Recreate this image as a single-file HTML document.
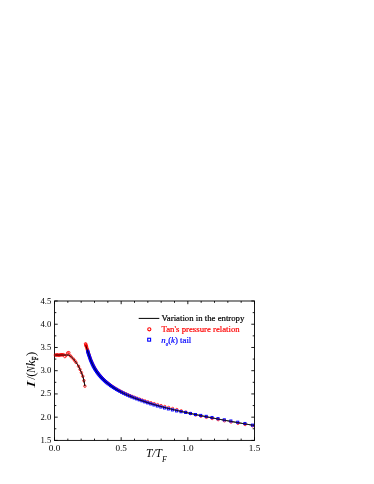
<!DOCTYPE html>
<html><head><meta charset="utf-8"><style>
html,body{margin:0;padding:0;background:#fff;}
body{width:374px;height:484px;position:relative;overflow:hidden;font-family:"Liberation Serif",serif;color:#000;}
.t{position:absolute;white-space:nowrap;line-height:1;}
.xt{font-size:9.2px;top:443.7px;transform:translateX(-50%);}
.yt{font-size:8.7px;right:322.7px;transform:translateY(-50%);margin-top:-0.5px;}
.lg{font-size:8.75px;margin-top:-0.3px;-webkit-text-stroke:0.2px;left:161.5px;transform:translateY(-50%);}
sub{font-size:58%;vertical-align:baseline;position:relative;top:0.75em;line-height:0;}
</style></head><body><div id="wrap" style="position:absolute;left:0;top:0;width:374px;height:484px;will-change:transform;">
<svg width="374" height="484" viewBox="0 0 374 484" style="position:absolute;left:0;top:0">
<rect x="54.5" y="301.0" width="200.0" height="139.39999999999998" fill="none" stroke="#000" stroke-width="0.9"/>
<path d="M54.50,440.4 v-3.2 M54.50,301.0 v3.2 M67.83,440.4 v-1.8 M67.83,301.0 v1.8 M81.17,440.4 v-1.8 M81.17,301.0 v1.8 M94.50,440.4 v-1.8 M94.50,301.0 v1.8 M107.83,440.4 v-1.8 M107.83,301.0 v1.8 M121.17,440.4 v-3.2 M121.17,301.0 v3.2 M134.50,440.4 v-1.8 M134.50,301.0 v1.8 M147.83,440.4 v-1.8 M147.83,301.0 v1.8 M161.17,440.4 v-1.8 M161.17,301.0 v1.8 M174.50,440.4 v-1.8 M174.50,301.0 v1.8 M187.83,440.4 v-3.2 M187.83,301.0 v3.2 M201.17,440.4 v-1.8 M201.17,301.0 v1.8 M214.50,440.4 v-1.8 M214.50,301.0 v1.8 M227.83,440.4 v-1.8 M227.83,301.0 v1.8 M241.17,440.4 v-1.8 M241.17,301.0 v1.8 M254.50,440.4 v-3.2 M254.50,301.0 v3.2 M54.5,440.40 h3.2 M254.5,440.40 h-3.2 M54.5,428.78 h1.8 M254.5,428.78 h-1.8 M54.5,417.17 h3.2 M254.5,417.17 h-3.2 M54.5,405.55 h1.8 M254.5,405.55 h-1.8 M54.5,393.93 h3.2 M254.5,393.93 h-3.2 M54.5,382.32 h1.8 M254.5,382.32 h-1.8 M54.5,370.70 h3.2 M254.5,370.70 h-3.2 M54.5,359.08 h1.8 M254.5,359.08 h-1.8 M54.5,347.47 h3.2 M254.5,347.47 h-3.2 M54.5,335.85 h1.8 M254.5,335.85 h-1.8 M54.5,324.23 h3.2 M254.5,324.23 h-3.2 M54.5,312.62 h1.8 M254.5,312.62 h-1.8 M54.5,301.00 h3.2 M254.5,301.00 h-3.2" stroke="#000" stroke-width="0.9" fill="none"/>
<path d="M54.50,355.00 L54.65,355.00 L54.81,355.00 L54.96,355.00 L55.11,355.00 L55.26,355.00 L55.42,355.00 L55.57,355.00 L55.72,355.00 L55.87,355.00 L56.03,355.00 L56.18,355.00 L56.33,355.00 L56.49,355.00 L56.64,355.00 L56.79,355.00 L56.94,355.00 L57.10,355.00 L57.25,355.00 L57.40,355.00 L57.56,355.00 L57.71,355.00 L57.86,355.00 L58.01,355.00 L58.17,355.00 L58.32,355.00 L58.47,355.00 L58.62,355.00 L58.78,355.00 L58.93,355.00 L59.08,355.00 L59.24,355.00 L59.39,355.00 L59.54,355.00 L59.69,355.00 L59.85,355.00 L60.00,355.00 L60.15,355.00 L60.31,355.00 L60.46,355.00 L60.61,355.00 L60.76,355.00 L60.92,355.00 L61.07,355.00 L61.22,355.00 L61.37,355.00 L61.53,355.00 L61.68,355.00 L61.83,355.00 L61.99,355.00 L62.14,355.00 L62.29,355.00 L62.44,355.00 L62.60,355.00 L62.75,355.00 L62.90,355.01 L63.05,355.01 L63.21,355.01 L63.36,355.01 L63.51,355.02 L63.67,355.02 L63.82,355.02 L63.97,355.02 L64.12,355.03 L64.28,355.03 L64.43,355.03 L64.58,355.04 L64.74,355.04 L64.89,355.04 L65.04,355.04 L65.19,355.04 L65.35,355.05 L65.50,355.05 L65.65,355.05 L65.80,355.05 L65.96,355.05 L66.11,355.05 L66.26,355.05 L66.42,355.04 L66.57,355.04 L66.72,355.04 L66.87,355.03 L67.03,355.02 L67.18,355.02 L67.33,355.01 L67.48,355.01 L67.64,355.00 L67.79,355.00 L67.94,355.00 L68.10,355.00 L68.25,355.02 L68.40,355.04 L68.55,355.07 L68.71,355.12 L68.86,355.17 L69.01,355.22 L69.17,355.29 L69.32,355.36 L69.47,355.43 L69.62,355.50 L69.78,355.58 L69.93,355.66 L70.08,355.75 L70.23,355.85 L70.39,355.98 L70.54,356.12 L70.69,356.27 L70.85,356.43 L71.00,356.59 L71.15,356.75 L71.30,356.90 L71.46,357.05 L71.61,357.20 L71.76,357.34 L71.92,357.49 L72.07,357.63 L72.22,357.78 L72.37,357.93 L72.53,358.08 L72.68,358.24 L72.83,358.40 L72.98,358.56 L73.14,358.72 L73.29,358.89 L73.44,359.06 L73.60,359.24 L73.75,359.42 L73.90,359.60 L74.05,359.79 L74.21,359.98 L74.36,360.17 L74.51,360.37 L74.66,360.56 L74.82,360.77 L74.97,360.97 L75.12,361.17 L75.28,361.38 L75.43,361.59 L75.58,361.80 L75.73,362.01 L75.89,362.22 L76.04,362.43 L76.19,362.64 L76.35,362.86 L76.50,363.07 L76.65,363.29 L76.80,363.51 L76.96,363.73 L77.11,363.95 L77.26,364.18 L77.41,364.41 L77.57,364.64 L77.72,364.88 L77.87,365.13 L78.03,365.38 L78.18,365.64 L78.33,365.90 L78.48,366.17 L78.64,366.45 L78.79,366.75 L78.94,367.06 L79.09,367.39 L79.25,367.72 L79.40,368.06 L79.55,368.40 L79.71,368.74 L79.86,369.09 L80.01,369.43 L80.16,369.76 L80.32,370.10 L80.47,370.44 L80.62,370.79 L80.78,371.13 L80.93,371.49 L81.08,371.84 L81.23,372.20 L81.39,372.57 L81.54,372.93 L81.69,373.29 L81.84,373.66 L82.00,374.02 L82.15,374.40 L82.30,374.78 L82.46,375.19 L82.61,375.62 L82.76,376.08 L82.91,376.57 L83.07,377.11 L83.22,377.68 L83.37,378.28 L83.53,378.92 L83.68,379.59 L83.83,380.28 L83.98,381.00 L84.14,381.76 L84.29,382.57 L84.44,383.43 L84.59,384.32 L84.75,385.24 L84.90,386.20" stroke="#000" stroke-width="1" fill="none"/>
<path d="M85.80,345.38 L86.22,346.63 L86.65,347.94 L87.07,349.30 L87.49,350.67 L87.91,352.03 L88.34,353.38 L88.76,354.69 L89.18,355.98 L89.61,357.22 L90.03,358.42 L90.45,359.57 L90.87,360.67 L91.30,361.72 L91.72,362.72 L92.14,363.68 L92.56,364.59 L92.99,365.45 L93.41,366.29 L93.83,367.08 L94.26,367.85 L94.68,368.59 L95.10,369.30 L95.52,369.98 L95.95,370.65 L96.37,371.29 L96.79,371.91 L97.22,372.51 L97.64,373.09 L98.06,373.66 L98.48,374.21 L98.91,374.74 L99.33,375.26 L99.75,375.77 L100.18,376.26 L100.60,376.75 L101.02,377.22 L101.44,377.67 L101.87,378.12 L102.29,378.56 L102.71,378.99 L103.14,379.41 L103.56,379.82 L103.98,380.22 L104.40,380.62 L104.83,381.00 L105.25,381.38 L105.67,381.75 L106.09,382.12 L106.52,382.48 L106.94,382.83 L107.36,383.17 L107.79,383.51 L108.21,383.85 L108.63,384.17 L109.05,384.50 L109.48,384.81 L109.90,385.13 L110.32,385.43 L110.75,385.74 L111.17,386.04 L111.59,386.33 L112.01,386.62 L112.44,386.91 L112.86,387.19 L113.28,387.47 L113.71,387.74 L114.13,388.01 L114.55,388.28 L114.97,388.54 L115.40,388.80 L115.82,389.05 L116.24,389.31 L116.66,389.56 L117.09,389.81 L117.51,390.05 L117.93,390.29 L118.36,390.53 L118.78,390.76 L119.20,391.00 L119.62,391.23 L120.05,391.45 L120.47,391.68 L120.89,391.90 L121.32,392.12 L121.74,392.34 L122.16,392.56 L122.58,392.77 L123.01,392.98 L123.43,393.19 L123.85,393.40 L124.28,393.60 L124.70,393.80 L125.12,394.00 L125.54,394.20 L125.97,394.40 L126.39,394.60 L126.81,394.79 L127.24,394.98 L127.66,395.17 L128.08,395.36 L128.50,395.55 L128.93,395.73 L129.35,395.91 L129.77,396.09 L130.19,396.27 L130.62,396.45 L131.04,396.63 L131.46,396.81 L131.89,396.98 L132.31,397.15 L132.73,397.32 L133.15,397.49 L133.58,397.66 L134.00,397.83 L134.42,398.00 L134.85,398.16 L135.27,398.32 L135.69,398.49 L136.11,398.65 L136.54,398.81 L136.96,398.97 L137.38,399.12 L137.81,399.28 L138.23,399.43 L138.65,399.59 L139.07,399.74 L139.50,399.89 L139.92,400.04 L140.34,400.19 L140.76,400.34 L141.19,400.49 L141.61,400.64 L142.03,400.78 L142.46,400.93 L142.88,401.07 L143.30,401.21 L143.72,401.36 L144.15,401.50 L144.57,401.64 L144.99,401.78 L145.42,401.91 L145.84,402.05 L146.26,402.19 L146.68,402.32 L147.11,402.46 L147.53,402.59 L147.95,402.73 L148.38,402.86 L148.80,402.99 L149.22,403.12 L149.64,403.25 L150.07,403.38 L150.49,403.51 L150.91,403.64 L151.34,403.76 L151.76,403.89 L152.18,404.02 L152.60,404.14 L153.03,404.27 L153.45,404.39 L153.87,404.51 L154.29,404.64 L154.72,404.76 L155.14,404.88 L155.56,405.00 L155.99,405.12 L156.41,405.24 L156.83,405.36 L157.25,405.47 L157.68,405.59 L158.10,405.71 L158.52,405.83 L158.95,405.94 L159.37,406.06 L159.79,406.17 L160.21,406.29 L160.64,406.40 L161.06,406.51 L161.48,406.63 L161.91,406.74 L162.33,406.85 L162.75,406.96 L163.17,407.07 L163.60,407.18 L164.02,407.29 L164.44,407.40 L164.86,407.51 L165.29,407.62 L165.71,407.73 L166.13,407.84 L166.56,407.94 L166.98,408.05 L167.40,408.16 L167.82,408.26 L168.25,408.37 L168.67,408.48 L169.09,408.58 L169.52,408.69 L169.94,408.79 L170.36,408.89 L170.78,409.00 L171.21,409.10 L171.63,409.20 L172.05,409.31 L172.48,409.41 L172.90,409.51 L173.32,409.61 L173.74,409.71 L174.17,409.81 L174.59,409.91 L175.01,410.01 L175.44,410.11 L175.86,410.21 L176.28,410.31 L176.70,410.41 L177.13,410.51 L177.55,410.61 L177.97,410.71 L178.39,410.80 L178.82,410.90 L179.24,411.00 L179.66,411.10 L180.09,411.19 L180.51,411.29 L180.93,411.38 L181.35,411.48 L181.78,411.58 L182.20,411.67 L182.62,411.77 L183.05,411.86 L183.47,411.95 L183.89,412.05 L184.31,412.14 L184.74,412.24 L185.16,412.33 L185.58,412.42 L186.01,412.52 L186.43,412.61 L186.85,412.70 L187.27,412.79 L187.70,412.89 L188.12,412.98 L188.54,413.07 L188.96,413.16 L189.39,413.25 L189.81,413.34 L190.23,413.43 L190.66,413.52 L191.08,413.61 L191.50,413.70 L191.92,413.79 L192.35,413.88 L192.77,413.97 L193.19,414.06 L193.62,414.15 L194.04,414.24 L194.46,414.33 L194.88,414.42 L195.31,414.51 L195.73,414.59 L196.15,414.68 L196.58,414.77 L197.00,414.86 L197.42,414.94 L197.84,415.03 L198.27,415.12 L198.69,415.20 L199.11,415.29 L199.54,415.38 L199.96,415.46 L200.38,415.55 L200.80,415.64 L201.23,415.72 L201.65,415.81 L202.07,415.89 L202.49,415.98 L202.92,416.06 L203.34,416.15 L203.76,416.23 L204.19,416.32 L204.61,416.40 L205.03,416.49 L205.45,416.57 L205.88,416.66 L206.30,416.74 L206.72,416.82 L207.15,416.91 L207.57,416.99 L207.99,417.07 L208.41,417.16 L208.84,417.24 L209.26,417.32 L209.68,417.40 L210.11,417.49 L210.53,417.57 L210.95,417.65 L211.37,417.73 L211.80,417.82 L212.22,417.90 L212.64,417.98 L213.06,418.06 L213.49,418.14 L213.91,418.22 L214.33,418.31 L214.76,418.39 L215.18,418.47 L215.60,418.55 L216.02,418.63 L216.45,418.71 L216.87,418.79 L217.29,418.87 L217.72,418.95 L218.14,419.03 L218.56,419.11 L218.98,419.19 L219.41,419.27 L219.83,419.35 L220.25,419.43 L220.68,419.51 L221.10,419.59 L221.52,419.67 L221.94,419.75 L222.37,419.82 L222.79,419.90 L223.21,419.98 L223.64,420.06 L224.06,420.14 L224.48,420.22 L224.90,420.30 L225.33,420.37 L225.75,420.45 L226.17,420.53 L226.59,420.61 L227.02,420.68 L227.44,420.76 L227.86,420.84 L228.29,420.92 L228.71,420.99 L229.13,421.07 L229.55,421.15 L229.98,421.23 L230.40,421.30 L230.82,421.38 L231.25,421.46 L231.67,421.53 L232.09,421.61 L232.51,421.69 L232.94,421.76 L233.36,421.84 L233.78,421.91 L234.21,421.99 L234.63,422.07 L235.05,422.14 L235.47,422.22 L235.90,422.29 L236.32,422.37 L236.74,422.44 L237.16,422.52 L237.59,422.59 L238.01,422.67 L238.43,422.74 L238.86,422.82 L239.28,422.89 L239.70,422.97 L240.12,423.04 L240.55,423.12 L240.97,423.19 L241.39,423.27 L241.82,423.34 L242.24,423.42 L242.66,423.49 L243.08,423.56 L243.51,423.64 L243.93,423.71 L244.35,423.79 L244.78,423.86 L245.20,423.93 L245.62,424.01 L246.04,424.08 L246.47,424.15 L246.89,424.23 L247.31,424.30 L247.74,424.37 L248.16,424.45 L248.58,424.52 L249.00,424.59 L249.43,424.67 L249.85,424.74 L250.27,424.81 L250.69,424.88 L251.12,424.96 L251.54,425.03 L251.96,425.10 L252.39,425.17 L252.81,425.25 L253.23,425.32 L253.65,425.39 L254.08,425.46 L254.50,425.54" stroke="#000" stroke-width="1" fill="none"/>
<circle cx="55.40" cy="355.04" r="1.25" fill="none" stroke="#f00" stroke-width="0.8"/>
<circle cx="56.22" cy="355.15" r="1.25" fill="none" stroke="#f00" stroke-width="0.8"/>
<circle cx="57.04" cy="354.85" r="1.25" fill="none" stroke="#f00" stroke-width="0.8"/>
<circle cx="57.86" cy="355.01" r="1.25" fill="none" stroke="#f00" stroke-width="0.8"/>
<circle cx="58.68" cy="355.28" r="1.25" fill="none" stroke="#f00" stroke-width="0.8"/>
<circle cx="59.50" cy="355.28" r="1.25" fill="none" stroke="#f00" stroke-width="0.8"/>
<circle cx="60.32" cy="354.74" r="1.25" fill="none" stroke="#f00" stroke-width="0.8"/>
<circle cx="61.14" cy="354.80" r="1.25" fill="none" stroke="#f00" stroke-width="0.8"/>
<circle cx="61.96" cy="354.69" r="1.25" fill="none" stroke="#f00" stroke-width="0.8"/>
<circle cx="62.78" cy="354.96" r="1.25" fill="none" stroke="#f00" stroke-width="0.8"/>
<circle cx="63.60" cy="354.67" r="1.25" fill="none" stroke="#f00" stroke-width="0.8"/>
<circle cx="64.90" cy="356.60" r="1.25" fill="none" stroke="#f00" stroke-width="0.8"/>
<circle cx="66.20" cy="355.20" r="1.25" fill="none" stroke="#f00" stroke-width="0.8"/>
<circle cx="67.70" cy="352.90" r="1.25" fill="none" stroke="#f00" stroke-width="0.8"/>
<circle cx="68.80" cy="352.60" r="1.25" fill="none" stroke="#f00" stroke-width="0.8"/>
<circle cx="70.00" cy="355.40" r="1.25" fill="none" stroke="#f00" stroke-width="0.8"/>
<circle cx="71.30" cy="356.90" r="1.25" fill="none" stroke="#f00" stroke-width="0.8"/>
<circle cx="73.30" cy="358.90" r="1.25" fill="none" stroke="#f00" stroke-width="0.8"/>
<circle cx="74.80" cy="360.74" r="1.25" fill="none" stroke="#f00" stroke-width="0.8"/>
<circle cx="76.10" cy="362.52" r="1.25" fill="none" stroke="#f00" stroke-width="0.8"/>
<circle cx="78.50" cy="366.20" r="1.25" fill="none" stroke="#f00" stroke-width="0.8"/>
<circle cx="80.00" cy="369.40" r="1.25" fill="none" stroke="#f00" stroke-width="0.8"/>
<circle cx="81.40" cy="372.60" r="1.25" fill="none" stroke="#f00" stroke-width="0.8"/>
<circle cx="82.80" cy="376.20" r="1.25" fill="none" stroke="#f00" stroke-width="0.8"/>
<circle cx="83.90" cy="380.60" r="1.25" fill="none" stroke="#f00" stroke-width="0.8"/>
<circle cx="84.90" cy="386.20" r="1.25" fill="none" stroke="#f00" stroke-width="0.8"/>
<path d="M54.50,355.00 L54.65,355.00 L54.81,355.00 L54.96,355.00 L55.11,355.00 L55.26,355.00 L55.42,355.00 L55.57,355.00 L55.72,355.00 L55.87,355.00 L56.03,355.00 L56.18,355.00 L56.33,355.00 L56.49,355.00 L56.64,355.00 L56.79,355.00 L56.94,355.00 L57.10,355.00 L57.25,355.00 L57.40,355.00 L57.56,355.00 L57.71,355.00 L57.86,355.00 L58.01,355.00 L58.17,355.00 L58.32,355.00 L58.47,355.00 L58.62,355.00 L58.78,355.00 L58.93,355.00 L59.08,355.00 L59.24,355.00 L59.39,355.00 L59.54,355.00 L59.69,355.00 L59.85,355.00 L60.00,355.00 L60.15,355.00 L60.31,355.00 L60.46,355.00 L60.61,355.00 L60.76,355.00 L60.92,355.00 L61.07,355.00 L61.22,355.00 L61.37,355.00 L61.53,355.00 L61.68,355.00 L61.83,355.00 L61.99,355.00 L62.14,355.00 L62.29,355.00 L62.44,355.00 L62.60,355.00 L62.75,355.00 L62.90,355.01 L63.05,355.01 L63.21,355.01 L63.36,355.01 L63.51,355.02 L63.67,355.02 L63.82,355.02 L63.97,355.02 L64.12,355.03 L64.28,355.03 L64.43,355.03 L64.58,355.04 L64.74,355.04 L64.89,355.04 L65.04,355.04 L65.19,355.04 L65.35,355.05 L65.50,355.05 L65.65,355.05 L65.80,355.05 L65.96,355.05 L66.11,355.05 L66.26,355.05 L66.42,355.04 L66.57,355.04 L66.72,355.04 L66.87,355.03 L67.03,355.02 L67.18,355.02 L67.33,355.01 L67.48,355.01 L67.64,355.00 L67.79,355.00 L67.94,355.00 L68.10,355.00 L68.25,355.02 L68.40,355.04 L68.55,355.07 L68.71,355.12 L68.86,355.17 L69.01,355.22 L69.17,355.29 L69.32,355.36 L69.47,355.43 L69.62,355.50 L69.78,355.58 L69.93,355.66 L70.08,355.75 L70.23,355.85 L70.39,355.98 L70.54,356.12 L70.69,356.27 L70.85,356.43 L71.00,356.59 L71.15,356.75 L71.30,356.90 L71.46,357.05 L71.61,357.20 L71.76,357.34 L71.92,357.49 L72.07,357.63 L72.22,357.78 L72.37,357.93 L72.53,358.08 L72.68,358.24 L72.83,358.40 L72.98,358.56 L73.14,358.72 L73.29,358.89 L73.44,359.06 L73.60,359.24 L73.75,359.42 L73.90,359.60 L74.05,359.79 L74.21,359.98 L74.36,360.17 L74.51,360.37 L74.66,360.56 L74.82,360.77 L74.97,360.97 L75.12,361.17 L75.28,361.38 L75.43,361.59 L75.58,361.80 L75.73,362.01 L75.89,362.22 L76.04,362.43 L76.19,362.64 L76.35,362.86 L76.50,363.07 L76.65,363.29 L76.80,363.51 L76.96,363.73 L77.11,363.95 L77.26,364.18 L77.41,364.41 L77.57,364.64 L77.72,364.88 L77.87,365.13 L78.03,365.38 L78.18,365.64 L78.33,365.90 L78.48,366.17 L78.64,366.45 L78.79,366.75 L78.94,367.06 L79.09,367.39 L79.25,367.72 L79.40,368.06 L79.55,368.40 L79.71,368.74 L79.86,369.09 L80.01,369.43 L80.16,369.76 L80.32,370.10 L80.47,370.44 L80.62,370.79 L80.78,371.13 L80.93,371.49 L81.08,371.84 L81.23,372.20 L81.39,372.57 L81.54,372.93 L81.69,373.29 L81.84,373.66 L82.00,374.02 L82.15,374.40 L82.30,374.78 L82.46,375.19 L82.61,375.62 L82.76,376.08 L82.91,376.57 L83.07,377.11 L83.22,377.68 L83.37,378.28 L83.53,378.92 L83.68,379.59 L83.83,380.28 L83.98,381.00 L84.14,381.76 L84.29,382.57 L84.44,383.43 L84.59,384.32 L84.75,385.24 L84.90,386.20" stroke="#000" stroke-width="1" fill="none"/>
<circle cx="85.55" cy="343.76" r="1.25" fill="none" stroke="#f00" stroke-width="0.8"/>
<circle cx="85.75" cy="344.48" r="1.25" fill="none" stroke="#f00" stroke-width="0.8"/>
<circle cx="85.95" cy="345.19" r="1.25" fill="none" stroke="#f00" stroke-width="0.8"/>
<circle cx="86.15" cy="345.83" r="1.25" fill="none" stroke="#f00" stroke-width="0.8"/>
<circle cx="86.35" cy="346.41" r="1.25" fill="none" stroke="#f00" stroke-width="0.8"/>
<circle cx="86.55" cy="347.01" r="1.25" fill="none" stroke="#f00" stroke-width="0.8"/>
<circle cx="86.94" cy="348.24" r="1.25" fill="none" stroke="#f00" stroke-width="0.8"/>
<circle cx="87.23" cy="349.16" r="1.25" fill="none" stroke="#f00" stroke-width="0.8"/>
<circle cx="87.53" cy="350.13" r="1.25" fill="none" stroke="#f00" stroke-width="0.8"/>
<circle cx="87.85" cy="351.15" r="1.25" fill="none" stroke="#f00" stroke-width="0.8"/>
<circle cx="88.17" cy="352.20" r="1.25" fill="none" stroke="#f00" stroke-width="0.8"/>
<circle cx="88.52" cy="353.29" r="1.25" fill="none" stroke="#f00" stroke-width="0.8"/>
<circle cx="88.88" cy="354.41" r="1.25" fill="none" stroke="#f00" stroke-width="0.8"/>
<circle cx="89.25" cy="355.55" r="1.25" fill="none" stroke="#f00" stroke-width="0.8"/>
<circle cx="89.65" cy="356.72" r="1.25" fill="none" stroke="#f00" stroke-width="0.8"/>
<circle cx="90.06" cy="357.90" r="1.25" fill="none" stroke="#f00" stroke-width="0.8"/>
<circle cx="90.49" cy="359.08" r="1.25" fill="none" stroke="#f00" stroke-width="0.8"/>
<circle cx="90.94" cy="360.27" r="1.25" fill="none" stroke="#f00" stroke-width="0.8"/>
<circle cx="91.41" cy="361.45" r="1.25" fill="none" stroke="#f00" stroke-width="0.8"/>
<circle cx="91.90" cy="362.62" r="1.25" fill="none" stroke="#f00" stroke-width="0.8"/>
<circle cx="92.41" cy="363.77" r="1.25" fill="none" stroke="#f00" stroke-width="0.8"/>
<circle cx="92.95" cy="364.90" r="1.25" fill="none" stroke="#f00" stroke-width="0.8"/>
<circle cx="93.51" cy="366.02" r="1.25" fill="none" stroke="#f00" stroke-width="0.8"/>
<circle cx="94.10" cy="367.13" r="1.25" fill="none" stroke="#f00" stroke-width="0.8"/>
<circle cx="94.71" cy="368.22" r="1.25" fill="none" stroke="#f00" stroke-width="0.8"/>
<circle cx="95.36" cy="369.30" r="1.25" fill="none" stroke="#f00" stroke-width="0.8"/>
<circle cx="96.03" cy="370.37" r="1.25" fill="none" stroke="#f00" stroke-width="0.8"/>
<circle cx="96.73" cy="371.43" r="1.25" fill="none" stroke="#f00" stroke-width="0.8"/>
<circle cx="97.47" cy="372.48" r="1.25" fill="none" stroke="#f00" stroke-width="0.8"/>
<circle cx="98.24" cy="373.51" r="1.25" fill="none" stroke="#f00" stroke-width="0.8"/>
<circle cx="99.04" cy="374.54" r="1.25" fill="none" stroke="#f00" stroke-width="0.8"/>
<circle cx="99.88" cy="375.56" r="1.25" fill="none" stroke="#f00" stroke-width="0.8"/>
<circle cx="100.76" cy="376.57" r="1.25" fill="none" stroke="#f00" stroke-width="0.8"/>
<circle cx="101.68" cy="377.57" r="1.25" fill="none" stroke="#f00" stroke-width="0.8"/>
<circle cx="102.64" cy="378.57" r="1.25" fill="none" stroke="#f00" stroke-width="0.8"/>
<circle cx="103.65" cy="379.55" r="1.25" fill="none" stroke="#f00" stroke-width="0.8"/>
<circle cx="104.70" cy="380.54" r="1.25" fill="none" stroke="#f00" stroke-width="0.8"/>
<circle cx="105.80" cy="381.51" r="1.25" fill="none" stroke="#f00" stroke-width="0.8"/>
<circle cx="106.95" cy="382.48" r="1.25" fill="none" stroke="#f00" stroke-width="0.8"/>
<circle cx="108.15" cy="383.44" r="1.25" fill="none" stroke="#f00" stroke-width="0.8"/>
<circle cx="109.41" cy="384.40" r="1.25" fill="none" stroke="#f00" stroke-width="0.8"/>
<circle cx="110.72" cy="385.36" r="1.25" fill="none" stroke="#f00" stroke-width="0.8"/>
<circle cx="112.10" cy="386.31" r="1.25" fill="none" stroke="#f00" stroke-width="0.8"/>
<circle cx="113.53" cy="387.26" r="1.25" fill="none" stroke="#f00" stroke-width="0.8"/>
<circle cx="115.04" cy="388.20" r="1.25" fill="none" stroke="#f00" stroke-width="0.8"/>
<circle cx="116.61" cy="389.14" r="1.25" fill="none" stroke="#f00" stroke-width="0.8"/>
<circle cx="118.25" cy="390.07" r="1.25" fill="none" stroke="#f00" stroke-width="0.8"/>
<circle cx="119.97" cy="391.01" r="1.25" fill="none" stroke="#f00" stroke-width="0.8"/>
<circle cx="121.77" cy="391.92" r="1.25" fill="none" stroke="#f00" stroke-width="0.8"/>
<circle cx="123.65" cy="392.83" r="1.25" fill="none" stroke="#f00" stroke-width="0.8"/>
<circle cx="125.62" cy="393.74" r="1.25" fill="none" stroke="#f00" stroke-width="0.8"/>
<circle cx="127.67" cy="394.64" r="1.25" fill="none" stroke="#f00" stroke-width="0.8"/>
<circle cx="129.82" cy="395.54" r="1.25" fill="none" stroke="#f00" stroke-width="0.8"/>
<circle cx="132.07" cy="396.44" r="1.25" fill="none" stroke="#f00" stroke-width="0.8"/>
<circle cx="134.42" cy="397.33" r="1.25" fill="none" stroke="#f00" stroke-width="0.8"/>
<circle cx="136.88" cy="398.23" r="1.25" fill="none" stroke="#f00" stroke-width="0.8"/>
<circle cx="139.45" cy="399.12" r="1.25" fill="none" stroke="#f00" stroke-width="0.8"/>
<circle cx="142.14" cy="400.04" r="1.25" fill="none" stroke="#f00" stroke-width="0.8"/>
<circle cx="144.96" cy="400.96" r="1.25" fill="none" stroke="#f00" stroke-width="0.8"/>
<circle cx="147.90" cy="401.88" r="1.25" fill="none" stroke="#f00" stroke-width="0.8"/>
<circle cx="150.97" cy="402.81" r="1.25" fill="none" stroke="#f00" stroke-width="0.8"/>
<circle cx="154.19" cy="403.73" r="1.25" fill="none" stroke="#f00" stroke-width="0.8"/>
<circle cx="157.55" cy="404.66" r="1.25" fill="none" stroke="#f00" stroke-width="0.8"/>
<circle cx="161.07" cy="405.60" r="1.25" fill="none" stroke="#f00" stroke-width="0.8"/>
<circle cx="164.74" cy="406.53" r="1.25" fill="none" stroke="#f00" stroke-width="0.8"/>
<circle cx="168.59" cy="407.53" r="1.25" fill="none" stroke="#f00" stroke-width="0.8"/>
<circle cx="172.61" cy="408.55" r="1.25" fill="none" stroke="#f00" stroke-width="0.8"/>
<circle cx="176.82" cy="409.58" r="1.25" fill="none" stroke="#f00" stroke-width="0.8"/>
<circle cx="181.22" cy="410.82" r="1.25" fill="none" stroke="#f00" stroke-width="0.8"/>
<circle cx="185.82" cy="412.17" r="1.25" fill="none" stroke="#f00" stroke-width="0.8"/>
<circle cx="190.62" cy="413.55" r="1.25" fill="none" stroke="#f00" stroke-width="0.8"/>
<circle cx="195.65" cy="414.95" r="1.25" fill="none" stroke="#f00" stroke-width="0.8"/>
<circle cx="200.91" cy="416.13" r="1.25" fill="none" stroke="#f00" stroke-width="0.8"/>
<circle cx="206.41" cy="417.32" r="1.25" fill="none" stroke="#f00" stroke-width="0.8"/>
<circle cx="212.17" cy="418.45" r="1.25" fill="none" stroke="#f00" stroke-width="0.8"/>
<circle cx="218.18" cy="419.60" r="1.25" fill="none" stroke="#f00" stroke-width="0.8"/>
<circle cx="224.47" cy="420.78" r="1.25" fill="none" stroke="#f00" stroke-width="0.8"/>
<circle cx="231.05" cy="421.98" r="1.25" fill="none" stroke="#f00" stroke-width="0.8"/>
<circle cx="237.93" cy="423.22" r="1.25" fill="none" stroke="#f00" stroke-width="0.8"/>
<circle cx="245.12" cy="424.49" r="1.25" fill="none" stroke="#f00" stroke-width="0.8"/>
<circle cx="252.64" cy="425.78" r="1.25" fill="none" stroke="#f00" stroke-width="0.8"/>
<rect x="86.60" y="350.12" width="2.1" height="2.1" fill="none" stroke="#00f" stroke-width="0.95"/>
<rect x="86.92" y="351.18" width="2.1" height="2.1" fill="none" stroke="#00f" stroke-width="0.95"/>
<rect x="87.27" y="352.27" width="2.1" height="2.1" fill="none" stroke="#00f" stroke-width="0.95"/>
<rect x="87.63" y="353.39" width="2.1" height="2.1" fill="none" stroke="#00f" stroke-width="0.95"/>
<rect x="88.00" y="354.54" width="2.1" height="2.1" fill="none" stroke="#00f" stroke-width="0.95"/>
<rect x="88.40" y="355.71" width="2.1" height="2.1" fill="none" stroke="#00f" stroke-width="0.95"/>
<rect x="88.81" y="356.89" width="2.1" height="2.1" fill="none" stroke="#00f" stroke-width="0.95"/>
<rect x="89.24" y="358.08" width="2.1" height="2.1" fill="none" stroke="#00f" stroke-width="0.95"/>
<rect x="89.69" y="359.27" width="2.1" height="2.1" fill="none" stroke="#00f" stroke-width="0.95"/>
<rect x="90.16" y="360.45" width="2.1" height="2.1" fill="none" stroke="#00f" stroke-width="0.95"/>
<rect x="90.65" y="361.63" width="2.1" height="2.1" fill="none" stroke="#00f" stroke-width="0.95"/>
<rect x="91.16" y="362.78" width="2.1" height="2.1" fill="none" stroke="#00f" stroke-width="0.95"/>
<rect x="91.70" y="363.92" width="2.1" height="2.1" fill="none" stroke="#00f" stroke-width="0.95"/>
<rect x="92.26" y="365.05" width="2.1" height="2.1" fill="none" stroke="#00f" stroke-width="0.95"/>
<rect x="92.85" y="366.16" width="2.1" height="2.1" fill="none" stroke="#00f" stroke-width="0.95"/>
<rect x="93.46" y="367.25" width="2.1" height="2.1" fill="none" stroke="#00f" stroke-width="0.95"/>
<rect x="94.11" y="368.34" width="2.1" height="2.1" fill="none" stroke="#00f" stroke-width="0.95"/>
<rect x="94.78" y="369.41" width="2.1" height="2.1" fill="none" stroke="#00f" stroke-width="0.95"/>
<rect x="95.48" y="370.48" width="2.1" height="2.1" fill="none" stroke="#00f" stroke-width="0.95"/>
<rect x="96.22" y="371.53" width="2.1" height="2.1" fill="none" stroke="#00f" stroke-width="0.95"/>
<rect x="96.99" y="372.57" width="2.1" height="2.1" fill="none" stroke="#00f" stroke-width="0.95"/>
<rect x="97.79" y="373.61" width="2.1" height="2.1" fill="none" stroke="#00f" stroke-width="0.95"/>
<rect x="98.63" y="374.63" width="2.1" height="2.1" fill="none" stroke="#00f" stroke-width="0.95"/>
<rect x="99.51" y="375.65" width="2.1" height="2.1" fill="none" stroke="#00f" stroke-width="0.95"/>
<rect x="100.43" y="376.66" width="2.1" height="2.1" fill="none" stroke="#00f" stroke-width="0.95"/>
<rect x="101.39" y="377.67" width="2.1" height="2.1" fill="none" stroke="#00f" stroke-width="0.95"/>
<rect x="102.40" y="378.66" width="2.1" height="2.1" fill="none" stroke="#00f" stroke-width="0.95"/>
<rect x="103.45" y="379.65" width="2.1" height="2.1" fill="none" stroke="#00f" stroke-width="0.95"/>
<rect x="104.55" y="380.64" width="2.1" height="2.1" fill="none" stroke="#00f" stroke-width="0.95"/>
<rect x="105.70" y="381.62" width="2.1" height="2.1" fill="none" stroke="#00f" stroke-width="0.95"/>
<rect x="106.90" y="382.59" width="2.1" height="2.1" fill="none" stroke="#00f" stroke-width="0.95"/>
<rect x="108.16" y="383.56" width="2.1" height="2.1" fill="none" stroke="#00f" stroke-width="0.95"/>
<rect x="109.47" y="384.53" width="2.1" height="2.1" fill="none" stroke="#00f" stroke-width="0.95"/>
<rect x="110.85" y="385.49" width="2.1" height="2.1" fill="none" stroke="#00f" stroke-width="0.95"/>
<rect x="112.28" y="386.45" width="2.1" height="2.1" fill="none" stroke="#00f" stroke-width="0.95"/>
<rect x="113.79" y="387.40" width="2.1" height="2.1" fill="none" stroke="#00f" stroke-width="0.95"/>
<rect x="115.36" y="388.36" width="2.1" height="2.1" fill="none" stroke="#00f" stroke-width="0.95"/>
<rect x="117.00" y="389.31" width="2.1" height="2.1" fill="none" stroke="#00f" stroke-width="0.95"/>
<rect x="118.72" y="390.26" width="2.1" height="2.1" fill="none" stroke="#00f" stroke-width="0.95"/>
<rect x="120.52" y="391.20" width="2.1" height="2.1" fill="none" stroke="#00f" stroke-width="0.95"/>
<rect x="122.40" y="392.15" width="2.1" height="2.1" fill="none" stroke="#00f" stroke-width="0.95"/>
<rect x="124.37" y="393.09" width="2.1" height="2.1" fill="none" stroke="#00f" stroke-width="0.95"/>
<rect x="126.42" y="394.04" width="2.1" height="2.1" fill="none" stroke="#00f" stroke-width="0.95"/>
<rect x="128.57" y="394.98" width="2.1" height="2.1" fill="none" stroke="#00f" stroke-width="0.95"/>
<rect x="130.82" y="395.92" width="2.1" height="2.1" fill="none" stroke="#00f" stroke-width="0.95"/>
<rect x="133.17" y="396.87" width="2.1" height="2.1" fill="none" stroke="#00f" stroke-width="0.95"/>
<rect x="135.63" y="397.81" width="2.1" height="2.1" fill="none" stroke="#00f" stroke-width="0.95"/>
<rect x="138.20" y="398.76" width="2.1" height="2.1" fill="none" stroke="#00f" stroke-width="0.95"/>
<rect x="140.89" y="399.75" width="2.1" height="2.1" fill="none" stroke="#00f" stroke-width="0.95"/>
<rect x="143.71" y="400.77" width="2.1" height="2.1" fill="none" stroke="#00f" stroke-width="0.95"/>
<rect x="146.65" y="401.79" width="2.1" height="2.1" fill="none" stroke="#00f" stroke-width="0.95"/>
<rect x="149.72" y="402.81" width="2.1" height="2.1" fill="none" stroke="#00f" stroke-width="0.95"/>
<rect x="152.94" y="403.85" width="2.1" height="2.1" fill="none" stroke="#00f" stroke-width="0.95"/>
<rect x="156.30" y="404.89" width="2.1" height="2.1" fill="none" stroke="#00f" stroke-width="0.95"/>
<rect x="159.82" y="405.91" width="2.1" height="2.1" fill="none" stroke="#00f" stroke-width="0.95"/>
<rect x="163.49" y="406.88" width="2.1" height="2.1" fill="none" stroke="#00f" stroke-width="0.95"/>
<rect x="167.34" y="407.86" width="2.1" height="2.1" fill="none" stroke="#00f" stroke-width="0.95"/>
<rect x="171.36" y="408.84" width="2.1" height="2.1" fill="none" stroke="#00f" stroke-width="0.95"/>
<rect x="175.57" y="409.84" width="2.1" height="2.1" fill="none" stroke="#00f" stroke-width="0.95"/>
<rect x="179.97" y="410.64" width="2.1" height="2.1" fill="none" stroke="#00f" stroke-width="0.95"/>
<rect x="184.57" y="411.38" width="2.1" height="2.1" fill="none" stroke="#00f" stroke-width="0.95"/>
<rect x="189.37" y="412.42" width="2.1" height="2.1" fill="none" stroke="#00f" stroke-width="0.95"/>
<rect x="194.40" y="413.47" width="2.1" height="2.1" fill="none" stroke="#00f" stroke-width="0.95"/>
<rect x="199.66" y="414.37" width="2.1" height="2.1" fill="none" stroke="#00f" stroke-width="0.95"/>
<rect x="205.16" y="415.32" width="2.1" height="2.1" fill="none" stroke="#00f" stroke-width="0.95"/>
<rect x="210.92" y="416.44" width="2.1" height="2.1" fill="none" stroke="#00f" stroke-width="0.95"/>
<rect x="216.93" y="417.59" width="2.1" height="2.1" fill="none" stroke="#00f" stroke-width="0.95"/>
<rect x="223.22" y="418.76" width="2.1" height="2.1" fill="none" stroke="#00f" stroke-width="0.95"/>
<rect x="229.80" y="419.95" width="2.1" height="2.1" fill="none" stroke="#00f" stroke-width="0.95"/>
<rect x="236.68" y="421.18" width="2.1" height="2.1" fill="none" stroke="#00f" stroke-width="0.95"/>
<rect x="243.87" y="422.44" width="2.1" height="2.1" fill="none" stroke="#00f" stroke-width="0.95"/>
<rect x="251.39" y="424.09" width="2.1" height="2.1" fill="none" stroke="#00f" stroke-width="0.95"/>
<path d="M85.80,345.38 L86.22,346.63 L86.65,347.94 L87.07,349.30 L87.49,350.67 L87.91,352.03 L88.34,353.38 L88.76,354.69 L89.18,355.98 L89.61,357.22 L90.03,358.42 L90.45,359.57 L90.87,360.67 L91.30,361.72 L91.72,362.72 L92.14,363.68 L92.56,364.59 L92.99,365.45 L93.41,366.29 L93.83,367.08 L94.26,367.85 L94.68,368.59 L95.10,369.30 L95.52,369.98 L95.95,370.65 L96.37,371.29 L96.79,371.91 L97.22,372.51 L97.64,373.09 L98.06,373.66 L98.48,374.21 L98.91,374.74 L99.33,375.26 L99.75,375.77 L100.18,376.26 L100.60,376.75 L101.02,377.22 L101.44,377.67 L101.87,378.12 L102.29,378.56 L102.71,378.99 L103.14,379.41 L103.56,379.82 L103.98,380.22 L104.40,380.62 L104.83,381.00 L105.25,381.38 L105.67,381.75 L106.09,382.12 L106.52,382.48 L106.94,382.83 L107.36,383.17 L107.79,383.51 L108.21,383.85 L108.63,384.17 L109.05,384.50 L109.48,384.81 L109.90,385.13 L110.32,385.43 L110.75,385.74 L111.17,386.04 L111.59,386.33 L112.01,386.62 L112.44,386.91 L112.86,387.19 L113.28,387.47 L113.71,387.74 L114.13,388.01 L114.55,388.28 L114.97,388.54 L115.40,388.80 L115.82,389.05 L116.24,389.31 L116.66,389.56 L117.09,389.81 L117.51,390.05 L117.93,390.29 L118.36,390.53 L118.78,390.76 L119.20,391.00 L119.62,391.23 L120.05,391.45 L120.47,391.68 L120.89,391.90 L121.32,392.12 L121.74,392.34 L122.16,392.56 L122.58,392.77 L123.01,392.98 L123.43,393.19 L123.85,393.40 L124.28,393.60 L124.70,393.80 L125.12,394.00 L125.54,394.20 L125.97,394.40 L126.39,394.60 L126.81,394.79 L127.24,394.98 L127.66,395.17 L128.08,395.36 L128.50,395.55 L128.93,395.73 L129.35,395.91 L129.77,396.09 L130.19,396.27 L130.62,396.45 L131.04,396.63 L131.46,396.81 L131.89,396.98 L132.31,397.15 L132.73,397.32 L133.15,397.49 L133.58,397.66 L134.00,397.83 L134.42,398.00 L134.85,398.16 L135.27,398.32 L135.69,398.49 L136.11,398.65 L136.54,398.81 L136.96,398.97 L137.38,399.12 L137.81,399.28 L138.23,399.43 L138.65,399.59 L139.07,399.74 L139.50,399.89 L139.92,400.04 L140.34,400.19 L140.76,400.34 L141.19,400.49 L141.61,400.64 L142.03,400.78 L142.46,400.93 L142.88,401.07 L143.30,401.21 L143.72,401.36 L144.15,401.50 L144.57,401.64 L144.99,401.78 L145.42,401.91 L145.84,402.05 L146.26,402.19 L146.68,402.32 L147.11,402.46 L147.53,402.59 L147.95,402.73 L148.38,402.86 L148.80,402.99 L149.22,403.12 L149.64,403.25 L150.07,403.38 L150.49,403.51 L150.91,403.64 L151.34,403.76 L151.76,403.89 L152.18,404.02 L152.60,404.14 L153.03,404.27 L153.45,404.39 L153.87,404.51 L154.29,404.64 L154.72,404.76 L155.14,404.88 L155.56,405.00 L155.99,405.12 L156.41,405.24 L156.83,405.36 L157.25,405.47 L157.68,405.59 L158.10,405.71 L158.52,405.83 L158.95,405.94 L159.37,406.06 L159.79,406.17 L160.21,406.29 L160.64,406.40 L161.06,406.51 L161.48,406.63 L161.91,406.74 L162.33,406.85 L162.75,406.96 L163.17,407.07 L163.60,407.18 L164.02,407.29 L164.44,407.40 L164.86,407.51 L165.29,407.62 L165.71,407.73 L166.13,407.84 L166.56,407.94 L166.98,408.05 L167.40,408.16 L167.82,408.26 L168.25,408.37 L168.67,408.48 L169.09,408.58 L169.52,408.69 L169.94,408.79 L170.36,408.89 L170.78,409.00 L171.21,409.10 L171.63,409.20 L172.05,409.31 L172.48,409.41 L172.90,409.51 L173.32,409.61 L173.74,409.71 L174.17,409.81 L174.59,409.91 L175.01,410.01 L175.44,410.11 L175.86,410.21 L176.28,410.31 L176.70,410.41 L177.13,410.51 L177.55,410.61 L177.97,410.71 L178.39,410.80 L178.82,410.90 L179.24,411.00 L179.66,411.10 L180.09,411.19 L180.51,411.29 L180.93,411.38 L181.35,411.48 L181.78,411.58 L182.20,411.67 L182.62,411.77 L183.05,411.86 L183.47,411.95 L183.89,412.05 L184.31,412.14 L184.74,412.24 L185.16,412.33 L185.58,412.42 L186.01,412.52 L186.43,412.61 L186.85,412.70 L187.27,412.79 L187.70,412.89 L188.12,412.98 L188.54,413.07 L188.96,413.16 L189.39,413.25 L189.81,413.34 L190.23,413.43 L190.66,413.52 L191.08,413.61 L191.50,413.70 L191.92,413.79 L192.35,413.88 L192.77,413.97 L193.19,414.06 L193.62,414.15 L194.04,414.24 L194.46,414.33 L194.88,414.42 L195.31,414.51 L195.73,414.59 L196.15,414.68 L196.58,414.77 L197.00,414.86 L197.42,414.94 L197.84,415.03 L198.27,415.12 L198.69,415.20 L199.11,415.29 L199.54,415.38 L199.96,415.46 L200.38,415.55 L200.80,415.64 L201.23,415.72 L201.65,415.81 L202.07,415.89 L202.49,415.98 L202.92,416.06 L203.34,416.15 L203.76,416.23 L204.19,416.32 L204.61,416.40 L205.03,416.49 L205.45,416.57 L205.88,416.66 L206.30,416.74 L206.72,416.82 L207.15,416.91 L207.57,416.99 L207.99,417.07 L208.41,417.16 L208.84,417.24 L209.26,417.32 L209.68,417.40 L210.11,417.49 L210.53,417.57 L210.95,417.65 L211.37,417.73 L211.80,417.82 L212.22,417.90 L212.64,417.98 L213.06,418.06 L213.49,418.14 L213.91,418.22 L214.33,418.31 L214.76,418.39 L215.18,418.47 L215.60,418.55 L216.02,418.63 L216.45,418.71 L216.87,418.79 L217.29,418.87 L217.72,418.95 L218.14,419.03 L218.56,419.11 L218.98,419.19 L219.41,419.27 L219.83,419.35 L220.25,419.43 L220.68,419.51 L221.10,419.59 L221.52,419.67 L221.94,419.75 L222.37,419.82 L222.79,419.90 L223.21,419.98 L223.64,420.06 L224.06,420.14 L224.48,420.22 L224.90,420.30 L225.33,420.37 L225.75,420.45 L226.17,420.53 L226.59,420.61 L227.02,420.68 L227.44,420.76 L227.86,420.84 L228.29,420.92 L228.71,420.99 L229.13,421.07 L229.55,421.15 L229.98,421.23 L230.40,421.30 L230.82,421.38 L231.25,421.46 L231.67,421.53 L232.09,421.61 L232.51,421.69 L232.94,421.76 L233.36,421.84 L233.78,421.91 L234.21,421.99 L234.63,422.07 L235.05,422.14 L235.47,422.22 L235.90,422.29 L236.32,422.37 L236.74,422.44 L237.16,422.52 L237.59,422.59 L238.01,422.67 L238.43,422.74 L238.86,422.82 L239.28,422.89 L239.70,422.97 L240.12,423.04 L240.55,423.12 L240.97,423.19 L241.39,423.27 L241.82,423.34 L242.24,423.42 L242.66,423.49 L243.08,423.56 L243.51,423.64 L243.93,423.71 L244.35,423.79 L244.78,423.86 L245.20,423.93 L245.62,424.01 L246.04,424.08 L246.47,424.15 L246.89,424.23 L247.31,424.30 L247.74,424.37 L248.16,424.45 L248.58,424.52 L249.00,424.59 L249.43,424.67 L249.85,424.74 L250.27,424.81 L250.69,424.88 L251.12,424.96 L251.54,425.03 L251.96,425.10 L252.39,425.17 L252.81,425.25 L253.23,425.32 L253.65,425.39 L254.08,425.46 L254.50,425.54" stroke="#000" stroke-width="0.9" fill="none" opacity="0.95"/>
<path d="M138.7,318.4 H159.3" stroke="#000" stroke-width="1"/>
<circle cx="149.3" cy="329.3" r="1.6" fill="none" stroke="#f00" stroke-width="1.1"/>
<rect x="147.7" y="338.25" width="2.9" height="2.9" fill="none" stroke="#00f" stroke-width="1.1"/>
<g transform="translate(34.5,388) rotate(-90)" font-family="Liberation Serif" fill="#000"><g transform="translate(0.3,0) scale(1.57,1)"><text x="0" y="0" font-style="italic" font-size="12.8" >I</text></g><g transform="translate(8.2,0) scale(1.0,1)"><text x="0" y="0" font-style="normal" font-size="12.8" >/</text></g><g transform="translate(11.2,0) scale(1.05,1)"><text x="0" y="0" font-style="normal" font-size="12.8" >(</text></g><g transform="translate(15.3,0) scale(0.74,1)"><text x="0" y="0" font-style="italic" font-size="12.8" >N</text></g><g transform="translate(21.7,0) scale(1.05,1)"><text x="0" y="0" font-style="italic" font-size="12.8" >k</text></g><g transform="translate(27.7,3.9) scale(0.88,1)"><text x="0" y="0" font-style="normal" font-size="7.2" stroke="#000" stroke-width="0.35">F</text></g><g transform="translate(31.7,0) scale(1.05,1)"><text x="0" y="0" font-style="normal" font-size="12.8" >)</text></g></g>
<text x="145.9" y="456.8" font-family="Liberation Serif" font-style="italic" font-size="11.5" fill="#000">T/T</text>
<text x="161.9" y="462.3" font-family="Liberation Serif" font-style="italic" font-size="8" fill="#000">F</text>
</svg>
<div class="t xt" style="left:54.5px">0.0</div>
<div class="t xt" style="left:121.2px">0.5</div>
<div class="t xt" style="left:187.8px">1.0</div>
<div class="t xt" style="left:254.5px">1.5</div>
<div class="t yt" style="top:440.4px">1.5</div>
<div class="t yt" style="top:417.2px">2.0</div>
<div class="t yt" style="top:393.9px">2.5</div>
<div class="t yt" style="top:370.7px">3.0</div>
<div class="t yt" style="top:347.5px">3.5</div>
<div class="t yt" style="top:324.2px">4.0</div>
<div class="t yt" style="top:301.0px">4.5</div>
<div class="t lg" style="top:318.5px">Variation in the entropy</div>
<div class="t lg" style="top:329.0px;color:#f00">Tan's pressure relation</div>
<div class="t lg" style="top:339.9px;left:161.3px;color:#00f"><i>n</i><sub><i>σ</i></sub>(<i>k</i>) tail</div>
</div></body></html>
